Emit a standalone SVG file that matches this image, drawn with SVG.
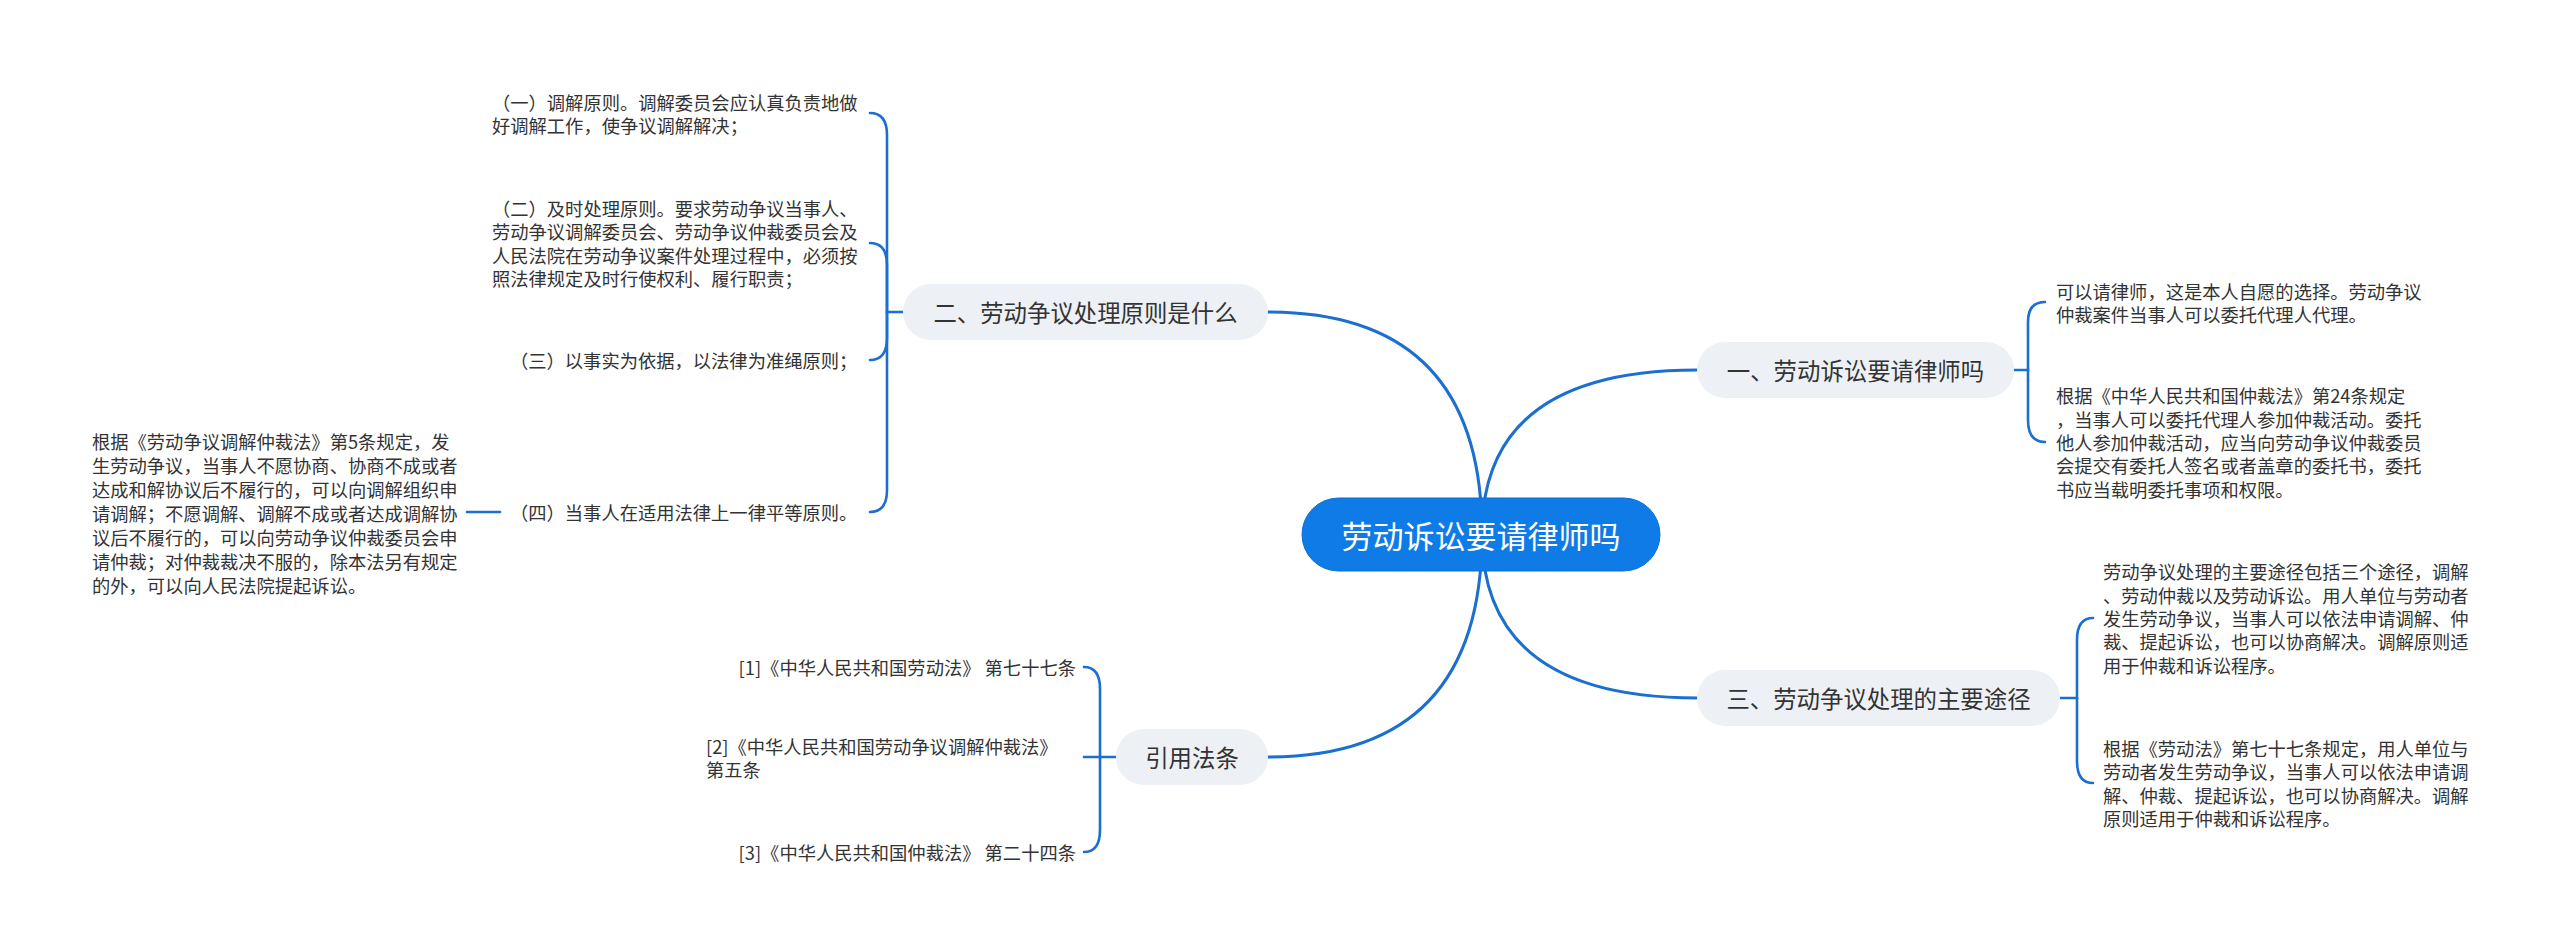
<svg xmlns="http://www.w3.org/2000/svg" width="2560" height="952" viewBox="0 0 2560 952">
<style>
.bg{fill:#ffffff}
.conn{fill:none;stroke:#1a6fd0;stroke-width:3;stroke-linecap:round}
.br{fill:none;stroke:#1a6fd0;stroke-width:2.6;stroke-linecap:round}
.pill{fill:#edf0f4}
.root{fill:#0f7be6;stroke:#0b6fd4;stroke-width:1}
.t{font-family:"Noto Sans CJK SC","Microsoft YaHei",sans-serif;fill:#333333;dominant-baseline:central}
.rt{font-size:31px;fill:#ffffff;text-anchor:middle}
.bt{font-size:23.4px;text-anchor:middle}
.lt{font-size:18.3px}
</style>
<rect class="bg" x="0" y="0" width="2560" height="952"/>
<g id="connectors">
<path class="conn" d="M1268,312 Q1482,312 1482,534"/>
<path class="conn" d="M1482,534 Q1482,370 1697,370"/>
<path class="conn" d="M1482,534 Q1482,698 1697,698"/>
<path class="conn" d="M1482,534 Q1482,757 1268,757"/>
<!-- branch 一 bracket -->
<path class="br" d="M2014,370 L2028,370"/>
<path class="br" d="M2028,370 L2028,322 Q2028,302 2045,302"/>
<path class="br" d="M2028,370 L2028,420 Q2028,442 2045,442"/>
<!-- branch 三 bracket -->
<path class="br" d="M2060,698 L2077,698"/>
<path class="br" d="M2077,698 L2077,640 Q2077,618 2093,618"/>
<path class="br" d="M2077,698 L2077,761 Q2077,783 2093,783"/>
<!-- branch 二 bracket -->
<path class="br" d="M903,312 L887,312"/>
<path class="br" d="M887,312 L887,135 Q887,113 870,113"/>
<path class="br" d="M887,312 L887,265 Q887,243 870,243"/>
<path class="br" d="M887,312 L887,338 Q887,360 870,360"/>
<path class="br" d="M887,312 L887,490 Q887,512 870,512"/>
<!-- (四) child -->
<path class="br" d="M500,512 L467,512"/>
<!-- 引用法条 bracket -->
<path class="br" d="M1116,757 L1084,757"/>
<path class="br" d="M1100,757 L1100,689 Q1100,667 1084,667"/>
<path class="br" d="M1100,757 L1100,830 Q1100,852 1084,852"/>
</g>
<g id="root">
<rect class="root" x="1302" y="498" width="358" height="73" rx="36.5"/>
<text class="t rt" x="1481" y="534">劳动诉讼要请律师吗</text>
</g>
<g id="branch1">
<rect class="pill" x="1697" y="342" width="317" height="56" rx="28"/>
<text class="t bt" x="1855.5" y="370">一、劳动诉讼要请律师吗</text>
</g>
<g id="branch2">
<rect class="pill" x="903" y="284" width="365" height="56" rx="28"/>
<text class="t bt" x="1085.5" y="312">二、劳动争议处理原则是什么</text>
</g>
<g id="branch3">
<rect class="pill" x="1697" y="670" width="363" height="56" rx="28"/>
<text class="t bt" x="1878.5" y="698">三、劳动争议处理的主要途径</text>
</g>
<g id="branch4">
<rect class="pill" x="1116" y="729" width="152" height="56" rx="28"/>
<text class="t bt" x="1192" y="757">引用法条</text>
</g>
<g id="leaf1a">
<text class="t lt" x="2056"><tspan x="2056" y="290.5">可以请律师，这是本人自愿的选择。劳动争议</tspan><tspan x="2056" y="313.8">仲裁案件当事人可以委托代理人代理。</tspan></text>
</g>
<g id="leaf1b">
<text class="t lt"><tspan x="2056" y="395.4">根据《中华人民共和国仲裁法》第24条规定</tspan><tspan x="2056" y="418.7">，当事人可以委托代理人参加仲裁活动。委托</tspan><tspan x="2056" y="442">他人参加仲裁活动，应当向劳动争议仲裁委员</tspan><tspan x="2056" y="465.3">会提交有委托人签名或者盖章的委托书，委托</tspan><tspan x="2056" y="488.6">书应当载明委托事项和权限。</tspan></text>
</g>
<g id="leaf3a">
<text class="t lt"><tspan x="2103" y="571.4">劳动争议处理的主要途径包括三个途径，调解</tspan><tspan x="2103" y="594.7">、劳动仲裁以及劳动诉讼。用人单位与劳动者</tspan><tspan x="2103" y="618">发生劳动争议，当事人可以依法申请调解、仲</tspan><tspan x="2103" y="641.3">裁、提起诉讼，也可以协商解决。调解原则适</tspan><tspan x="2103" y="664.6">用于仲裁和诉讼程序。</tspan></text>
</g>
<g id="leaf3b">
<text class="t lt"><tspan x="2103" y="748">根据《劳动法》第七十七条规定，用人单位与</tspan><tspan x="2103" y="771.3">劳动者发生劳动争议，当事人可以依法申请调</tspan><tspan x="2103" y="794.6">解、仲裁、提起诉讼，也可以协商解决。调解</tspan><tspan x="2103" y="818">原则适用于仲裁和诉讼程序。</tspan></text>
</g>
<g id="leaf2a">
<text class="t lt"><tspan x="492" y="101.5">（一）调解原则。调解委员会应认真负责地做</tspan><tspan x="492" y="124.8">好调解工作，使争议调解解决；</tspan></text>
</g>
<g id="leaf2b">
<text class="t lt"><tspan x="492" y="208">（二）及时处理原则。要求劳动争议当事人、</tspan><tspan x="492" y="231.3">劳动争议调解委员会、劳动争议仲裁委员会及</tspan><tspan x="492" y="254.6">人民法院在劳动争议案件处理过程中，必须按</tspan><tspan x="492" y="278">照法律规定及时行使权利、履行职责；</tspan></text>
</g>
<g id="leaf2c">
<text class="t lt" x="510" y="360">（三）以事实为依据，以法律为准绳原则；</text>
</g>
<g id="leaf2d">
<text class="t lt" x="510" y="512">（四）当事人在适用法律上一律平等原则。</text>
</g>
<g id="leaf2d1">
<text class="t lt"><tspan x="92" y="441">根据《劳动争议调解仲裁法》第5条规定，发</tspan><tspan x="92" y="465">生劳动争议，当事人不愿协商、协商不成或者</tspan><tspan x="92" y="489">达成和解协议后不履行的，可以向调解组织申</tspan><tspan x="92" y="513">请调解；不愿调解、调解不成或者达成调解协</tspan><tspan x="92" y="537">议后不履行的，可以向劳动争议仲裁委员会申</tspan><tspan x="92" y="561">请仲裁；对仲裁裁决不服的，除本法另有规定</tspan><tspan x="92" y="585">的外，可以向人民法院提起诉讼。</tspan></text>
</g>
<g id="leaf4a">
<text class="t lt" x="1076" y="667" text-anchor="end">[1]《中华人民共和国劳动法》 第七十七条</text>
</g>
<g id="leaf4b">
<text class="t lt"><tspan x="706" y="746">[2]《中华人民共和国劳动争议调解仲裁法》</tspan><tspan x="706" y="769">第五条</tspan></text>
</g>
<g id="leaf4c">
<text class="t lt" x="1076" y="852" text-anchor="end">[3]《中华人民共和国仲裁法》 第二十四条</text>
</g>
</svg>
